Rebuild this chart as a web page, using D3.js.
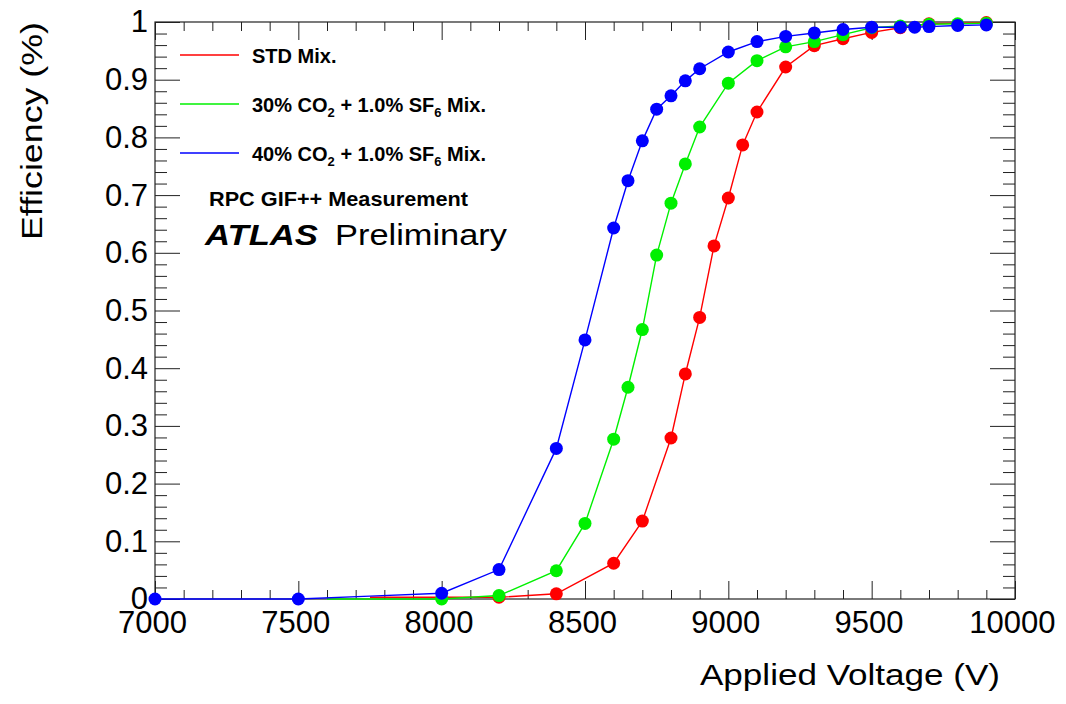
<!DOCTYPE html>
<html>
<head>
<meta charset="utf-8">
<script src="https://cdn.jsdelivr.net/npm/d3@7"></script>
<style>
    body { margin: 0; background: #fff; }
    svg { display: block; font-family: "Liberation Sans", Arial, sans-serif; }
    .tick text { font-size: 31px; fill: #000; }
    .tick line { stroke: #222; }
</style>
</head>
<body>
<svg id="plot" width="1066" height="704"></svg>
<script>
// tick labels
var xTicks = [7000, 7500, 8000, 8500, 9000, 9500, 10000];
var yTicks = [0, 0.1, 0.2, 0.3, 0.4, 0.5, 0.6, 0.7, 0.8, 0.9, 1];

// STD Mix.
var redVolts = [7750, 8000, 8200, 8400, 8600, 8700, 8800, 8850, 8900, 8950, 9000, 9050, 9100, 9200, 9300, 9400, 9500, 9600, 9700, 9900];
var redEff = [0.003, 0.003, 0.003, 0.009, 0.062, 0.135, 0.279, 0.390, 0.488, 0.612, 0.695, 0.787, 0.844, 0.922, 0.959, 0.971, 0.982, 0.990, 0.997, 0.999];
var redNoMarker = [7750, 8000];

// 30% CO2 + 1.0% SF6 Mix.
var greenVolts = [7600, 8000, 8200, 8400, 8500, 8600, 8650, 8700, 8750, 8800, 8850, 8900, 9000, 9100, 9200, 9300, 9400, 9500, 9600, 9700, 9800, 9900];
var greenEff = [0, 0, 0.006, 0.049, 0.131, 0.277, 0.367, 0.467, 0.596, 0.686, 0.754, 0.818, 0.894, 0.933, 0.957, 0.966, 0.978, 0.990, 0.993, 0.996, 0.997, 0.998];
var greenNoMarker = [7600];

// 40% CO2 + 1.0% SF6 Mix.
var blueVolts = [7000, 7500, 7750, 8000, 8200, 8400, 8500, 8600, 8650, 8700, 8750, 8800, 8850, 8900, 9000, 9100, 9200, 9300, 9400, 9500, 9600, 9650, 9700, 9800, 9900];
var blueEff = [0, 0, 0.005, 0.010, 0.051, 0.261, 0.449, 0.643, 0.725, 0.794, 0.849, 0.872, 0.898, 0.919, 0.948, 0.966, 0.975, 0.981, 0.987, 0.991, 0.991, 0.991, 0.992, 0.994, 0.995];
var blueNoMarker = [7750];

var seriesNames = ['STD Mix.', '30% CO|2| + 1.0% SF|6| Mix.', '40% CO|2| + 1.0% SF|6| Mix.'];
var seriesColors = ['#ff0000', '#00f000', '#0000ff'];

/** Efficiency curves, ROOT look */
class EfficiencyPlot {
    constructor() {
        this.svg = d3.select('#plot');
        this.left = 155; this.right = 1015;
        this.top = 22; this.bottom = 599;
        this.x = d3.scaleLinear().domain([7000, 10000]).range([this.left, this.right]);
        this.y = d3.scaleLinear().domain([0, 1]).range([this.bottom, this.top]);
    }

    drawAxes() {
        var svg = this.svg, x = this.x, y = this.y;
        var xMinor = d3.range(7000, 10001, 100).filter(function (d) { return d % 500 !== 0; });
        var yMinor = d3.range(0, 51).map(function (i) { return i / 50; }).filter(function (d, i) { return i % 5 !== 0; });
        var noDomain = function (g) { g.select('.domain').remove(); };

        svg.append('g').attr('transform', 'translate(0,' + this.bottom + ')')
            .call(d3.axisBottom(x).tickValues(xTicks).tickSize(-18).tickPadding(12).tickFormat(d3.format('d')))
            .call(noDomain)
            .selectAll('text').attr('dx', '-0.1em').attr('font-family', null);
        svg.append('g').attr('transform', 'translate(0,' + this.bottom + ')')
            .call(d3.axisBottom(x).tickValues(xMinor).tickSize(-9).tickFormat(''))
            .call(noDomain);
        svg.append('g').attr('transform', 'translate(0,' + this.top + ')')
            .call(d3.axisTop(x).tickValues(xTicks).tickSize(-18).tickFormat(''))
            .call(noDomain);
        svg.append('g').attr('transform', 'translate(0,' + this.top + ')')
            .call(d3.axisTop(x).tickValues(xMinor).tickSize(-9).tickFormat(''))
            .call(noDomain);

        svg.append('g').attr('transform', 'translate(' + this.left + ',0)')
            .call(d3.axisLeft(y).tickValues(yTicks).tickSize(-25).tickPadding(7).tickFormat(function (d) { return String(+d.toFixed(1)); }))
            .call(noDomain)
            .selectAll('text').attr('font-family', null);
        svg.append('g').attr('transform', 'translate(' + this.left + ',0)')
            .call(d3.axisLeft(y).tickValues(yMinor).tickSize(-12).tickFormat(''))
            .call(noDomain);
        svg.append('g').attr('transform', 'translate(' + this.right + ',0)')
            .call(d3.axisRight(y).tickValues(yTicks).tickSize(-25).tickFormat(''))
            .call(noDomain);
        svg.append('g').attr('transform', 'translate(' + this.right + ',0)')
            .call(d3.axisRight(y).tickValues(yMinor).tickSize(-12).tickFormat(''))
            .call(noDomain);

        svg.selectAll('.tick line').attr('stroke', '#222');

        svg.append('rect')
            .attr('x', this.left).attr('y', this.top)
            .attr('width', this.right - this.left).attr('height', this.bottom - this.top)
            .attr('fill', 'none').attr('stroke', '#222').attr('stroke-width', 1.2);

        // axis titles
        svg.append('text')
            .attr('x', 1000).attr('y', 685)
            .attr('text-anchor', 'end')
            .attr('font-size', 30)
            .attr('textLength', 300).attr('lengthAdjust', 'spacingAndGlyphs')
            .text('Applied Voltage (V)');
        svg.append('text')
            .attr('transform', 'translate(42,22) rotate(-90)')
            .attr('text-anchor', 'end')
            .attr('font-size', 30)
            .attr('textLength', 218).attr('lengthAdjust', 'spacingAndGlyphs')
            .text('Efficiency (%)');
    }

    drawSeries(volts, eff, noMarker, color) {
        var x = this.x, y = this.y;
        var pts = volts.map(function (v, i) { return { v: v, e: eff[i] }; });
        var line = d3.line().x(function (d) { return x(d.v); }).y(function (d) { return y(d.e); });

        this.svg.append('path')
            .datum(pts)
            .attr('d', line)
            .attr('fill', 'none')
            .attr('stroke', color)
            .attr('stroke-width', 1.4);

        this.svg.append('g').selectAll('circle')
            .data(pts.filter(function (d) { return noMarker.indexOf(d.v) < 0; }))
            .enter()
            .append('circle')
            .attr('cx', function (d) { return x(d.v); })
            .attr('cy', function (d) { return y(d.e); })
            .attr('r', 6.5)
            .attr('fill', color);
    }

    drawLegend() {
        var svg = this.svg;
        var rows = [55, 104, 153];
        seriesNames.forEach(function (name, i) {
            svg.append('line')
                .attr('x1', 180).attr('x2', 239)
                .attr('y1', rows[i]).attr('y2', rows[i])
                .attr('stroke', seriesColors[i]).attr('stroke-width', 1.5);
            var t = svg.append('text')
                .attr('x', 252).attr('y', rows[i] + 8)
                .attr('font-size', 20).attr('font-weight', 'bold');
            name.split('|').forEach(function (part, k) {
                var sub = k % 2 === 1;
                t.append('tspan')
                    .attr('font-size', sub ? 13 : 20)
                    .attr('dy', sub ? 5 : (k > 0 ? -5 : 0))
                    .text(part);
            });
        });

        svg.append('text')
            .attr('x', 209).attr('y', 206)
            .attr('font-size', 21).attr('font-weight', 'bold')
            .attr('textLength', 259).attr('lengthAdjust', 'spacingAndGlyphs')
            .text('RPC GIF++ Measurement');
        svg.append('text')
            .attr('x', 205).attr('y', 245)
            .attr('font-size', 29).attr('font-weight', 'bold').attr('font-style', 'italic')
            .attr('textLength', 113).attr('lengthAdjust', 'spacingAndGlyphs')
            .text('ATLAS');
        svg.append('text')
            .attr('x', 335).attr('y', 245)
            .attr('font-size', 29)
            .attr('textLength', 172).attr('lengthAdjust', 'spacingAndGlyphs')
            .text('Preliminary');
    }
}

var plot = new EfficiencyPlot();
plot.drawAxes();
plot.drawSeries(redVolts, redEff, redNoMarker, seriesColors[0]);
plot.drawSeries(greenVolts, greenEff, greenNoMarker, seriesColors[1]);
plot.drawSeries(blueVolts, blueEff, blueNoMarker, seriesColors[2]);
plot.drawLegend();
</script>
</body>
</html>
